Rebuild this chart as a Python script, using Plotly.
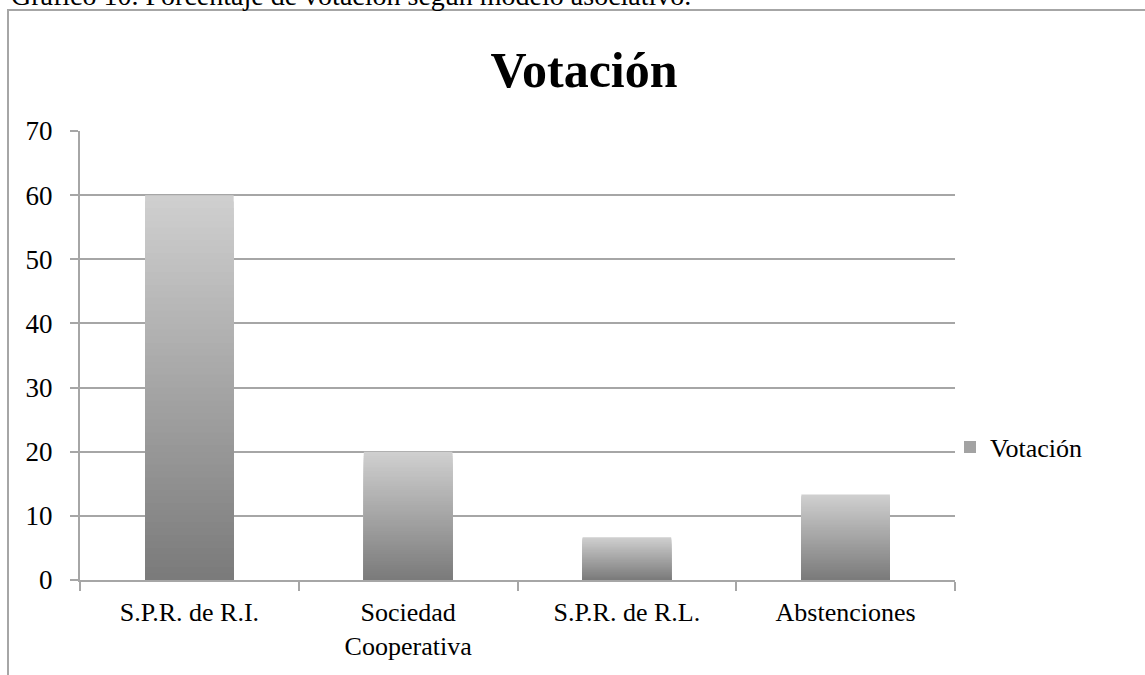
import plotly.graph_objects as go

categories = ["S.P.R. de R.I.", "Sociedad<br>Cooperativa", "S.P.R. de R.L.", "Abstenciones"]
values = [60, 20, 6.67, 13.33]
series_name = "Votación"
y_ticks = [0, 10, 20, 30, 40, 50, 60, 70]

FONT = "Liberation Serif"
GRID = "#a6a6a6"
TOP_RGB = (208, 208, 208)
BOT_RGB = (122, 122, 122)
N = 60

fig = go.Figure()
# overlapping bars: each later (shorter) one is darker, giving a smooth vertical gradient
for k in range(N):
    frac = (N - k) / N
    t = (N - k - 0.5) / N
    r = round(BOT_RGB[0] + (TOP_RGB[0] - BOT_RGB[0]) * t)
    g = round(BOT_RGB[1] + (TOP_RGB[1] - BOT_RGB[1]) * t)
    b = round(BOT_RGB[2] + (TOP_RGB[2] - BOT_RGB[2]) * t)
    fig.add_trace(go.Bar(
        x=categories,
        y=[v * frac for v in values],
        marker=dict(color=f"rgb({r},{g},{b})", line=dict(width=0)),
        width=0.405,
        showlegend=False,
        hoverinfo="skip",
    ))

fig.add_trace(go.Bar(
    x=[categories[0]], y=[None], name=series_name,
    marker=dict(color="#a3a3a3", line=dict(width=0)),
    showlegend=True,
))

fig.update_layout(
    width=1145, height=675,
    margin=dict(l=80, r=190, t=131, b=95),
    paper_bgcolor="white", plot_bgcolor="white",
    barmode="overlay",
    title=dict(text="<b>Votación</b>", x=584 / 1145, xanchor="center", xref="container",
               y=1 - 69 / 675, yanchor="middle", yref="container",
               font=dict(family=FONT, size=50, color="black")),
    font=dict(family=FONT, size=25, color="black"),
    legend=dict(x=(950 - 80) / 875, xanchor="left", y=(580 - 447) / 449, yanchor="middle",
                font=dict(family=FONT, size=26, color="black"), bgcolor="rgba(0,0,0,0)",
                itemwidth=30),
    xaxis=dict(showgrid=False, showline=True, linecolor=GRID, linewidth=2,
               ticks="outside", tickson="boundaries", ticklen=9, tickcolor=GRID, tickwidth=2,
               ticklabelstandoff=8,
               tickfont=dict(family=FONT, size=26, color="black")),
    yaxis=dict(range=[0, 70], tickvals=y_ticks, showgrid=True, gridcolor=GRID, gridwidth=2,
               showline=True, linecolor=GRID, linewidth=2, zeroline=False,
               ticks="outside", ticklen=8, tickcolor=GRID, tickwidth=2,
               ticklabelstandoff=12,
               tickfont=dict(family=FONT, size=27, color="black")),
    shapes=[dict(type="rect", xref="paper", yref="paper",
                 x0=(8 - 80) / 875, x1=1.4, y0=-0.5, y1=(580 - 10) / 449,
                 line=dict(color=GRID, width=2), fillcolor="rgba(0,0,0,0)", layer="below")],
    annotations=[dict(text="Gráfico 10. Porcentaje de votación según modelo asociativo.",
                      xref="paper", yref="paper", x=(9 - 80) / 875, xanchor="left",
                      y=(580 - 13) / 449, yanchor="bottom", showarrow=False,
                      font=dict(family=FONT, size=28, color="black"))],
)

fig.write_html("out.html", config={"displayModeBar": False},
               post_script="document.body.style.margin='0';document.body.style.padding='0';")
